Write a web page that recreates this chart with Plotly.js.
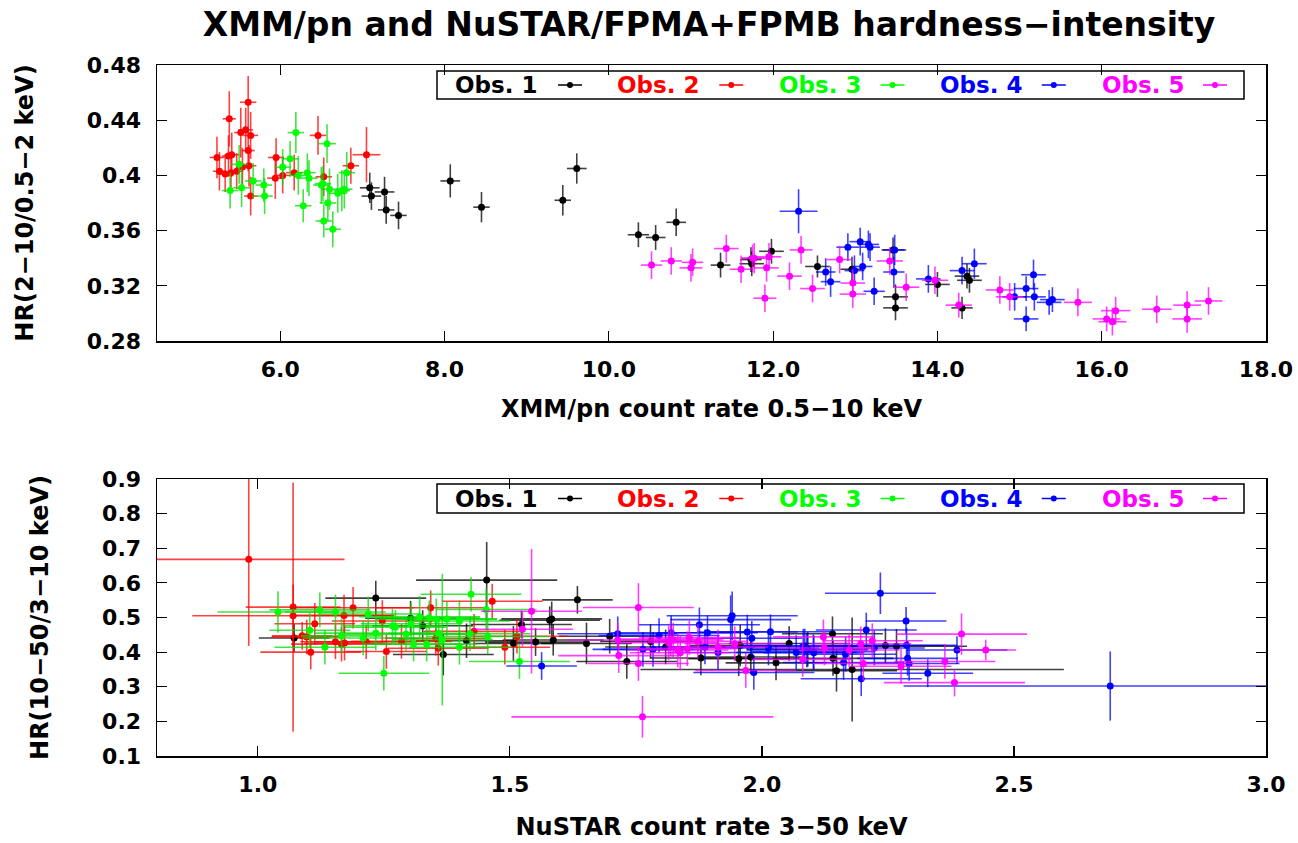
<!DOCTYPE html>
<html>
<head>
<meta charset="utf-8">
<script src="https://cdn.plot.ly/plotly-3.0.1.min.js"></script>
<style>html,body{margin:0;padding:0;background:#fff;}#chart{width:1298px;height:843px;}</style>
</head>
<body>
<div id="chart"></div>
<script>
// ---------- series meta ----------
const obsNames  = ['Obs. 1','Obs. 2','Obs. 3','Obs. 4','Obs. 5'];
const obsColors = ['#000000','#ff0000','#00ff00','#0000ff','#ff00ff'];
const errColors = ['rgba(0,0,0,0.75)','rgba(255,0,0,0.75)','rgba(0,220,0,0.75)','rgba(0,0,255,0.75)','rgba(255,0,255,0.75)'];

// ---------- tick labels ----------
const topXTicks = [6,8,10,12,14,16,18];
const topYTicks = [0.28,0.32,0.36,0.40,0.44,0.48];
const topYText  = ['0.28','0.32','0.36','0.4','0.44','0.48'];
const botXTicks = [1.0,1.5,2.0,2.5,3.0];
const botYTicks = [0.1,0.2,0.3,0.4,0.5,0.6,0.7,0.8,0.9];

// ---------- XMM/pn (top panel) ----------
const xmm1_x  = [7.09,7.11,7.27,7.29,7.44,8.07,8.45,9.44,9.61,10.36,10.57,10.82,11.36,11.73,11.74,11.98,12.54,12.96,13.46,13.49,13.49,14.00,14.36,14.39,14.30];
const xmm1_y  = [0.391,0.385,0.388,0.375,0.371,0.396,0.377,0.382,0.405,0.357,0.355,0.366,0.335,0.339,0.336,0.345,0.334,0.332,0.346,0.312,0.304,0.321,0.327,0.324,0.304];
const xmm1_xe = [0.12,0.12,0.12,0.10,0.10,0.12,0.10,0.10,0.12,0.13,0.12,0.12,0.12,0.13,0.15,0.15,0.15,0.14,0.14,0.15,0.15,0.15,0.15,0.15,0.13];
const xmm1_ye = [0.011,0.010,0.011,0.010,0.010,0.012,0.011,0.011,0.011,0.009,0.009,0.010,0.009,0.009,0.009,0.009,0.008,0.009,0.009,0.009,0.009,0.009,0.009,0.009,0.008];

const xmm2_x  = [5.23,5.26,5.33,5.38,5.37,5.41,5.40,5.47,5.52,5.58,5.61,5.64,5.61,5.54,5.62,5.64,5.94,5.95,6.03,6.17,6.46,6.53,6.86,7.05];
const xmm2_y  = [0.413,0.403,0.401,0.441,0.414,0.415,0.402,0.403,0.431,0.433,0.453,0.429,0.418,0.406,0.407,0.385,0.398,0.413,0.400,0.402,0.429,0.399,0.407,0.415];
const xmm2_xe = [0.09,0.08,0.08,0.08,0.08,0.09,0.08,0.08,0.08,0.09,0.10,0.09,0.08,0.08,0.09,0.08,0.10,0.10,0.10,0.10,0.10,0.10,0.10,0.17];
const xmm2_ye = [0.015,0.014,0.013,0.020,0.015,0.016,0.014,0.013,0.018,0.016,0.019,0.017,0.015,0.014,0.015,0.014,0.015,0.014,0.013,0.013,0.014,0.014,0.013,0.020];

const xmm3_x  = [5.39,5.50,5.53,5.67,5.80,5.81,6.03,6.12,6.19,6.22,6.28,6.33,6.35,6.50,6.52,6.53,6.57,6.58,6.60,6.64,6.70,6.75,6.78,6.81];
const xmm3_y  = [0.389,0.408,0.391,0.396,0.393,0.385,0.406,0.412,0.431,0.400,0.378,0.402,0.398,0.393,0.394,0.367,0.423,0.380,0.390,0.361,0.387,0.389,0.390,0.402];
const xmm3_xe = [0.10,0.10,0.10,0.10,0.10,0.10,0.10,0.10,0.10,0.10,0.10,0.10,0.11,0.10,0.10,0.10,0.11,0.10,0.10,0.10,0.11,0.10,0.10,0.10];
const xmm3_ye = [0.013,0.014,0.014,0.013,0.012,0.013,0.013,0.013,0.015,0.014,0.012,0.014,0.013,0.013,0.013,0.012,0.014,0.013,0.015,0.013,0.014,0.015,0.014,0.015];

const xmm4_x  = [12.31,12.64,12.70,12.91,13.06,13.16,13.18,12.99,13.09,13.23,13.48,13.47,13.89,14.30,14.45,14.94,15.08,15.17,15.18,15.08,15.36,15.40];
const xmm4_y  = [0.374,0.330,0.323,0.348,0.352,0.350,0.348,0.331,0.334,0.316,0.346,0.330,0.325,0.331,0.336,0.312,0.318,0.328,0.312,0.296,0.308,0.310];
const xmm4_xe = [0.23,0.12,0.12,0.14,0.13,0.13,0.12,0.12,0.12,0.13,0.14,0.13,0.15,0.15,0.15,0.15,0.15,0.15,0.14,0.15,0.15,0.15];
const xmm4_ye = [0.016,0.010,0.011,0.010,0.010,0.010,0.010,0.011,0.010,0.010,0.011,0.011,0.010,0.010,0.011,0.010,0.009,0.011,0.010,0.009,0.009,0.009];

const xmm5_x  = [10.52,10.76,11.00,11.02,11.43,11.61,11.75,11.77,11.90,11.92,11.95,12.20,12.34,12.48,12.81,12.97,12.97,13.42,13.62,13.97,14.26,14.76,14.88,15.71,16.06,16.13,16.17,16.67,17.04,17.04,17.30];
const xmm5_y  = [0.335,0.338,0.333,0.337,0.347,0.332,0.340,0.340,0.311,0.333,0.341,0.327,0.346,0.318,0.339,0.322,0.314,0.338,0.319,0.324,0.306,0.317,0.312,0.308,0.296,0.294,0.302,0.303,0.306,0.296,0.309];
const xmm5_xe = [0.13,0.13,0.14,0.13,0.15,0.14,0.14,0.15,0.14,0.15,0.15,0.15,0.14,0.15,0.16,0.15,0.16,0.16,0.16,0.16,0.16,0.17,0.17,0.17,0.17,0.17,0.18,0.18,0.17,0.18,0.17];
const xmm5_ye = [0.010,0.010,0.010,0.010,0.010,0.010,0.010,0.011,0.010,0.010,0.010,0.010,0.010,0.010,0.010,0.010,0.010,0.010,0.010,0.010,0.009,0.010,0.010,0.010,0.009,0.010,0.010,0.010,0.010,0.010,0.010];

// ---------- NuSTAR (bottom panel) ----------
const nu1_x  = [1.072,1.234,1.303,1.327,1.368,1.414,1.454,1.507,1.523,1.551,1.579,1.583,1.586,1.634,1.652,1.698,1.732,1.779,1.809,1.879,1.954,1.957,1.978,2.028,2.054,2.091,2.140,2.141,2.148,2.179,2.245,2.267];
const nu1_y  = [0.441,0.556,0.498,0.476,0.393,0.433,0.608,0.425,0.480,0.429,0.492,0.496,0.435,0.551,0.425,0.446,0.373,0.431,0.415,0.383,0.381,0.419,0.386,0.369,0.425,0.408,0.453,0.382,0.346,0.350,0.419,0.417];
const nu1_xe = [0.07,0.10,0.09,0.10,0.10,0.10,0.14,0.08,0.10,0.10,0.10,0.10,0.10,0.07,0.09,0.10,0.10,0.10,0.12,0.10,0.10,0.10,0.10,0.10,0.12,0.12,0.10,0.12,0.12,0.42,0.12,0.14];
const nu1_ye = [0.04,0.05,0.05,0.045,0.06,0.05,0.11,0.05,0.04,0.04,0.04,0.05,0.045,0.04,0.06,0.05,0.05,0.05,0.05,0.05,0.05,0.06,0.05,0.05,0.05,0.05,0.05,0.05,0.06,0.15,0.05,0.05];

const nu2_x  = [0.982,1.070,1.070,1.088,1.097,1.105,1.113,1.154,1.166,1.171,1.172,1.189,1.215,1.247,1.255,1.285,1.343,1.353,1.358,1.429,1.465,1.490,1.514];
const nu2_y  = [0.668,0.530,0.505,0.447,0.444,0.400,0.482,0.430,0.423,0.506,0.426,0.528,0.430,0.490,0.402,0.431,0.528,0.440,0.411,0.460,0.547,0.414,0.446];
const nu2_xe = [0.19,0.094,0.20,0.06,0.07,0.10,0.08,0.07,0.10,0.10,0.08,0.12,0.10,0.10,0.08,0.10,0.11,0.10,0.10,0.10,0.10,0.09,0.10];
const nu2_ye = [0.25,0.36,0.09,0.04,0.05,0.05,0.06,0.05,0.05,0.06,0.05,0.06,0.05,0.06,0.05,0.05,0.05,0.05,0.05,0.05,0.05,0.05,0.05];

const nu3_x  = [1.040,1.103,1.123,1.133,1.154,1.166,1.209,1.219,1.234,1.250,1.267,1.273,1.294,1.304,1.309,1.321,1.335,1.340,1.354,1.359,1.366,1.375,1.400,1.400,1.421,1.423,1.453,1.456,1.519];
const nu3_y  = [0.516,0.463,0.522,0.414,0.516,0.447,0.441,0.510,0.455,0.339,0.476,0.472,0.452,0.482,0.423,0.502,0.423,0.499,0.495,0.454,0.436,0.496,0.414,0.490,0.453,0.567,0.523,0.445,0.373];
const nu3_xe = [0.12,0.08,0.10,0.10,0.10,0.08,0.12,0.10,0.12,0.09,0.10,0.10,0.12,0.10,0.10,0.12,0.10,0.10,0.12,0.10,0.10,0.10,0.10,0.10,0.12,0.10,0.10,0.12,0.10];
const nu3_ye = [0.06,0.05,0.05,0.05,0.05,0.05,0.05,0.05,0.05,0.05,0.05,0.05,0.05,0.06,0.05,0.06,0.05,0.05,0.06,0.05,0.19,0.05,0.05,0.06,0.05,0.05,0.06,0.05,0.05];

const nu4_x  = [1.563,1.714,1.764,1.784,1.796,1.820,1.876,1.887,1.892,1.913,1.938,1.941,1.971,1.980,1.984,2.013,2.017,2.068,2.082,2.085,2.089,2.102,2.103,2.162,2.166,2.197,2.207,2.223,2.235,2.286,2.287,2.289,2.292,2.329,2.387,2.691];
const nu4_y  = [0.360,0.453,0.408,0.408,0.448,0.456,0.479,0.415,0.456,0.399,0.494,0.505,0.458,0.440,0.341,0.412,0.459,0.399,0.417,0.418,0.406,0.401,0.398,0.370,0.394,0.323,0.464,0.412,0.570,0.490,0.420,0.382,0.367,0.339,0.406,0.302];
const nu4_xe = [0.07,0.12,0.10,0.10,0.12,0.12,0.12,0.10,0.10,0.10,0.12,0.13,0.10,0.10,0.12,0.10,0.12,0.12,0.12,0.12,0.12,0.12,0.10,0.12,0.10,0.12,0.10,0.10,0.11,0.08,0.10,0.10,0.10,0.09,0.10,0.41];
const nu4_ye = [0.04,0.05,0.05,0.05,0.05,0.05,0.05,0.05,0.05,0.05,0.07,0.07,0.05,0.05,0.05,0.05,0.05,0.05,0.05,0.05,0.05,0.05,0.05,0.05,0.05,0.05,0.05,0.05,0.06,0.04,0.05,0.05,0.05,0.04,0.04,0.10];

const nu5_x  = [1.525,1.543,1.714,1.716,1.755,1.755,1.763,1.815,1.819,1.824,1.833,1.838,1.852,1.856,1.873,1.913,1.946,1.968,2.081,2.122,2.124,2.173,2.196,2.201,2.219,2.276,2.363,2.382,2.396,2.444];
const nu5_y  = [0.466,0.518,0.435,0.390,0.529,0.367,0.213,0.427,0.438,0.435,0.406,0.398,0.410,0.442,0.431,0.415,0.424,0.347,0.379,0.444,0.412,0.406,0.424,0.367,0.433,0.359,0.373,0.312,0.452,0.406];
const nu5_xe = [0.10,0.10,0.10,0.12,0.11,0.10,0.26,0.10,0.10,0.10,0.10,0.10,0.10,0.10,0.10,0.10,0.10,0.10,0.10,0.10,0.10,0.10,0.10,0.10,0.10,0.10,0.10,0.14,0.13,0.06];
const nu5_ye = [0.05,0.18,0.05,0.05,0.07,0.05,0.06,0.05,0.05,0.05,0.05,0.05,0.05,0.05,0.05,0.05,0.05,0.05,0.05,0.05,0.05,0.05,0.05,0.05,0.05,0.05,0.05,0.04,0.06,0.03];

// ---------- build traces ----------
const topSets = [[xmm1_x,xmm1_y,xmm1_xe,xmm1_ye],[xmm2_x,xmm2_y,xmm2_xe,xmm2_ye],[xmm3_x,xmm3_y,xmm3_xe,xmm3_ye],[xmm4_x,xmm4_y,xmm4_xe,xmm4_ye],[xmm5_x,xmm5_y,xmm5_xe,xmm5_ye]];
const botSets = [[nu1_x,nu1_y,nu1_xe,nu1_ye],[nu2_x,nu2_y,nu2_xe,nu2_ye],[nu3_x,nu3_y,nu3_xe,nu3_ye],[nu4_x,nu4_y,nu4_xe,nu4_ye],[nu5_x,nu5_y,nu5_xe,nu5_ye]];

function mk(set, i, xa, ya){
  return {
    type:'scatter', mode:'markers', x:set[0], y:set[1], xaxis:xa, yaxis:ya,
    name:obsNames[i], showlegend:false, cliponaxis:true,
    marker:{color:obsColors[i], size:7},
    error_x:{type:'data', array:set[2], visible:true, width:0, thickness:1.6, color:errColors[i]},
    error_y:{type:'data', array:set[3], visible:true, width:0, thickness:1.6, color:errColors[i]}
  };
}
const data = [];
topSets.forEach((s,i)=>data.push(mk(s,i,'x','y')));
botSets.forEach((s,i)=>data.push(mk(s,i,'x2','y2')));

// ---------- layout helpers (pixel -> paper) ----------
const W = 1298, H = 843;
const PX = v => v / W;
const PY = v => 1 - v / H;
const FONT = 'DejaVu Sans, Liberation Sans, Arial, sans-serif';
const tickFont = {family:FONT, size:22, color:'#000', weight:'bold'};
const axTitleFont = {family:FONT, size:24, color:'#000', weight:'bold'};

function axisBase(extra){
  return Object.assign({
    showgrid:false, zeroline:false, showline:true, linecolor:'#000', linewidth:1.5,
    mirror:'ticks', ticks:'inside', ticklen:10, tickwidth:1.2, tickcolor:'#000',
    tickfont:tickFont, automargin:false, fixedrange:true
  }, extra);
}

const shapes = [], annotations = [];
// custom key boxes, gnuplot style: label text followed by the sample
[[71,99],[484,513]].forEach(([t,b])=>{
  shapes.push({type:'rect', xref:'paper', yref:'paper', x0:PX(437), x1:PX(1244), y0:PY(b), y1:PY(t),
               line:{color:'#000', width:1.5}, fillcolor:'rgba(255,255,255,0)'});
  const yc = (t+b)/2;
  obsNames.forEach((n,i)=>{
    const tx = 496 + i*161.75, sx = 570 + i*161.25;
    annotations.push({xref:'paper', yref:'paper', x:PX(tx), y:PY(yc), text:n, showarrow:false,
      xanchor:'center', yanchor:'middle', font:{family:FONT, size:23, color:obsColors[i], weight:'bold'}});
    shapes.push({type:'line', xref:'paper', yref:'paper', x0:PX(sx-12), x1:PX(sx+12), y0:PY(yc), y1:PY(yc),
      line:{color:obsColors[i], width:1.5}});
    shapes.push({type:'circle', xref:'paper', yref:'paper', x0:PX(sx-3), x1:PX(sx+3), y0:PY(yc+3), y1:PY(yc-3),
      line:{color:obsColors[i], width:0}, fillcolor:obsColors[i]});
  });
});

const layout = {
  width:W, height:H, paper_bgcolor:'#fff', plot_bgcolor:'#fff',
  margin:{l:0, r:0, t:0, b:0}, showlegend:false,
  title:{text:'XMM/pn and NuSTAR/FPMA+FPMB hardness\u2212intensity', xref:'paper', yref:'paper',
         x:PX(709), y:PY(24), xanchor:'center', yanchor:'middle',
         font:{family:FONT, size:33, color:'#000', weight:'bold'}},
  xaxis: axisBase({domain:[PX(157), PX(1266)], anchor:'y', range:[4.5,18],
    tickvals:topXTicks, tickformat:'.1f', ticklabelstandoff:8,
    title:{text:'XMM/pn count rate 0.5\u221210 keV', font:axTitleFont, standoff:19}}),
  yaxis: axisBase({domain:[PY(341), PY(65)], anchor:'x', range:[0.28,0.48],
    tickvals:topYTicks, ticktext:topYText, ticklabelstandoff:10,
    title:{text:'HR(2\u221210/0.5\u22122 keV)', font:axTitleFont, standoff:46}}),
  xaxis2: axisBase({domain:[PX(157), PX(1266)], anchor:'y2', range:[0.8,3.0],
    tickvals:botXTicks, tickformat:'.1f', ticklabelstandoff:8,
    title:{text:'NuSTAR count rate 3\u221250 keV', font:axTitleFont, standoff:22}}),
  yaxis2: axisBase({domain:[PY(756), PY(479)], anchor:'x2', range:[0.1,0.9],
    tickvals:botYTicks, tickformat:'.1f', ticklabelstandoff:10,
    title:{text:'HR(10\u221250/3\u221210 keV)', font:axTitleFont, standoff:46}}),
  shapes:shapes, annotations:annotations
};

Plotly.newPlot('chart', data, layout, {displayModeBar:false, staticPlot:true});
</script>
</body>
</html>
